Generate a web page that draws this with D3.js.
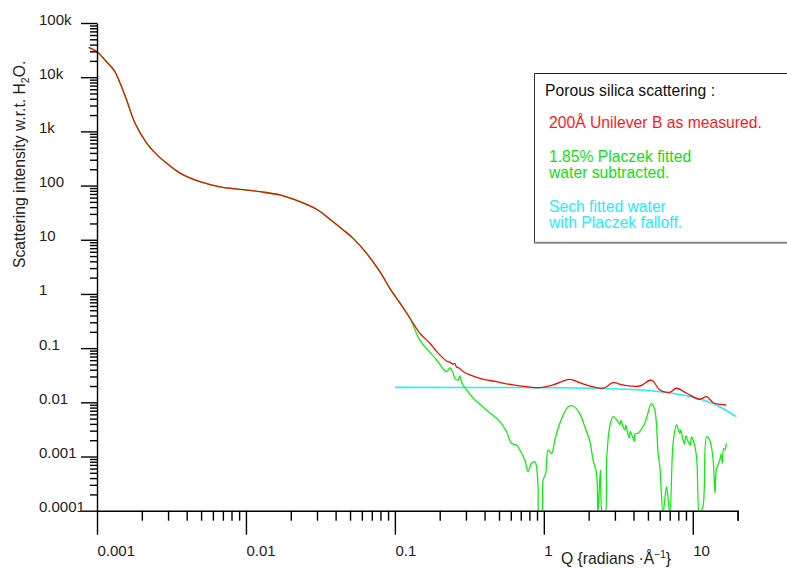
<!DOCTYPE html>
<html>
<head>
<meta charset="utf-8">
<script src="https://cdn.jsdelivr.net/npm/d3@7"></script>
<style>
  html, body { margin: 0; padding: 0; background: #fff; }
  svg { display: block; font-family: "Liberation Sans", Arial, Helvetica, sans-serif; }
</style>
</head>
<body>
<svg id="chart" width="787" height="569"></svg>
<script>
// ---------- DATA ----------
const xMajorTicks = [0.001, 0.01, 0.1, 1, 10];
const xMajorLabels = ["0.001", "0.01", "0.1", "1", "10"];
const yMajorTicks = [1e5, 1e4, 1e3, 100, 10, 1, 0.1, 0.01, 0.001, 0.0001];
const yMajorLabels = ["100k", "10k", "1k", "100", "10", "1", "0.1", "0.01", "0.001", "0.0001"];

// 200Å Unilever B as measured (red)
const redQ = [0.00088, 0.001, 0.00113, 0.00124, 0.00132, 0.00143, 0.00158, 0.0018, 0.00216, 0.0025, 0.00294, 0.00361,
  0.00491, 0.00669, 0.00912, 0.0124, 0.0169, 0.0230, 0.0298, 0.0366, 0.045, 0.0525,
  0.0646, 0.0793, 0.0925, 0.108, 0.126, 0.147, 0.172, 0.191, 0.222, 0.235,
  0.246, 0.253, 0.259, 0.270, 0.287, 0.372, 0.482, 0.622, 0.765, 0.94,
  1.153, 1.49, 1.745, 2.04, 2.50, 2.92, 3.40, 4.41, 5.28, 6.01,
  7.01, 7.78, 9.08, 11.1, 12.4, 13.7, 15.2, 16.8];
const redI = [35600, 29500, 20800, 15800, 12600, 7710, 3790, 1410, 603, 380, 258, 170,
  118, 95, 85.3, 77.1, 67, 50.4, 36.5, 24.0, 15.2, 10.6,
  5.62, 2.57, 1.27, 0.681, 0.36, 0.188, 0.123, 0.086, 0.058, 0.0545,
  0.0505, 0.052, 0.045, 0.043, 0.037, 0.0277, 0.024, 0.0209, 0.0194, 0.0186,
  0.0209, 0.0266, 0.023, 0.020, 0.0182, 0.023, 0.0209, 0.020, 0.0258, 0.0169,
  0.0153, 0.0182, 0.0147, 0.0114, 0.0127, 0.00984, 0.0092, 0.00893];

// 1.85% Placzek fitted water subtracted (green) — identical to red below q≈0.11
const greenSharedCount = 26;
const greenTailQ = [0.126, 0.147, 0.191, 0.222, 0.234, 0.246, 0.253, 0.266, 0.273, 0.280,
  0.287, 0.303, 0.336, 0.412, 0.507, 0.562, 0.607, 0.656, 0.690, 0.745,
  0.785, 0.826, 0.871, 0.893, 0.916, 0.930, 0.964, 0.989, 1.03, 1.07,
  1.127, 1.186, 1.28, 1.456, 1.573, 1.745, 1.884, 2.04, 2.14, 2.26,
  2.31, 2.40, 2.48, 2.57, 2.64, 2.77, 2.92, 3.15, 3.25, 3.30,
  3.40, 3.50, 3.55, 3.68, 3.75, 3.80, 3.97, 4.05, 4.10, 4.29,
  4.76, 5.28, 5.56, 5.85, 6.01, 6.32, 6.66, 7.01, 7.38, 7.78,
  8.18, 8.30, 8.61, 8.80, 9.00, 9.31, 9.60, 9.80, 10.05, 10.6,
  11.1, 11.7, 12.4, 13.0, 13.7, 14.1, 14.4, 15.2, 15.5, 15.8,
  16.1, 16.4, 16.8];
const greenTailI = [0.36, 0.141, 0.0604, 0.0367, 0.043, 0.0343, 0.0277, 0.0258, 0.0306, 0.024,
  0.0209, 0.0169, 0.01186, 0.00721, 0.0044, 0.00287, 0.00175, 0.00163, 0.00132, 0.000863,
  0.000525, 0.00075, 0.000803, 0.000649, 0.000241, 0.00009, 0.00009, 0.000369, 0.00049, 0.00132,
  0.00115, 0.00202, 0.0041, 0.0083, 0.00855, 0.0061, 0.00355, 0.00188, 0.000863, 0.00049,
  0.00009, 0.000564, 0.00009, 0.00009, 0.000863, 0.00355, 0.00543, 0.0044, 0.0039, 0.0047,
  0.00355, 0.0031, 0.0038, 0.0025, 0.0022, 0.0029, 0.00217, 0.0019, 0.0026, 0.00268,
  0.0041, 0.0096, 0.00721, 0.00115, 0.000649, 0.00009, 0.000277, 0.00009, 0.00175, 0.00382,
  0.00268, 0.0031, 0.00202, 0.0017, 0.0024, 0.00188, 0.0016, 0.0023, 0.00202, 0.000993,
  0.00009, 0.000119, 0.00232, 0.00202, 0.000863, 0.000209, 0.000564, 0.000863, 0.0011, 0.00075,
  0.0014, 0.00132, 0.00175];

// Sech fitted water with Placzek falloff (cyan)
const cyanQ = [0.1, 0.372, 1.28, 3.59, 6.01, 10.05, 14.4, 19.6];
const cyanI = [0.0189, 0.0188, 0.0186, 0.0174, 0.0157, 0.0124, 0.00893, 0.00543];

const legendTitle = "Porous silica scattering :";
const legendLines = [
  { lines: ["200Å Unilever B as measured."], color: "#ff1a1a" },
  { lines: ["1.85% Placzek fitted", "water subtracted."], color: "#11e011" },
  { lines: ["Sech fitted water", "with Placzek falloff."], color: "#22eeff" }
];

// ---------- BUILD ----------
const redData = redQ.map((q, i) => ({ q, v: redI[i] }));
const greenData = redData.slice(0, greenSharedCount)
  .concat(greenTailQ.map((q, i) => ({ q, v: greenTailI[i] })));
const cyanData = cyanQ.map((q, i) => ({ q, v: cyanI[i] }));

const svg = d3.select("#chart");
const x = d3.scaleLog().domain([0.001, 20]).range([97, 737.6]);
const y = d3.scaleLog().domain([1e-4, 1e5]).range([510.7, 23]);

// minor tick positions
const xMinor = [];
[0.001, 0.01, 0.1, 1, 10].forEach(d => { for (let k = 2; k <= 9; k++) { if (d * k <= 20) xMinor.push(d * k); } });
xMinor.push(20);
const yMinor = [];
[1e-4, 1e-3, 1e-2, 0.1, 1, 10, 100, 1e3, 1e4].forEach(d => { for (let k = 2; k <= 9; k++) yMinor.push(d * k); });

// clip
svg.append("defs").append("clipPath").attr("id", "clip")
  .append("rect").attr("x", 0).attr("y", 0).attr("width", 787).attr("height", 510.7);

// legend box
const lg = svg.append("g");
lg.append("rect").attr("x", 534.5).attr("y", 73.5).attr("width", 270).attr("height", 168.5)
  .attr("fill", "#fff").attr("stroke", "none");
lg.append("line").attr("x1", 534.5).attr("x2", 790).attr("y1", 73.5).attr("y2", 73.5).attr("stroke", "#222").attr("stroke-width", 1);
lg.append("line").attr("x1", 534.5).attr("x2", 534.5).attr("y1", 73.5).attr("y2", 242).attr("stroke", "#333").attr("stroke-width", 1);
lg.append("line").attr("x1", 534).attr("x2", 790).attr("y1", 242.7).attr("y2", 242.7).attr("stroke", "#888").attr("stroke-width", 2);
lg.append("text").attr("x", 545).attr("y", 95.5).attr("font-size", 15.7).attr("fill", "#111").text(legendTitle);
const legendBaselines = [[128], [161.5, 178], [211.5, 228]];
legendLines.forEach((item, i) => {
  item.lines.forEach((t, j) => {
    lg.append("text").attr("x", 549).attr("y", legendBaselines[i][j])
      .attr("font-size", 15.7).attr("fill", item.color).text(t);
  });
});

// curves
const plot = svg.append("g").attr("clip-path", "url(#clip)");
const smoothLine = d3.line().x(d => x(d.q)).y(d => y(d.v)).curve(d3.curveMonotoneX);
const dataLine = d3.line().x(d => x(d.q)).y(d => y(d.v)).curve(d3.curveCatmullRom.alpha(0.5));
plot.append("path").datum(cyanData).attr("d", smoothLine)
  .attr("fill", "none").attr("stroke", "#22eeff").attr("stroke-width", 1.6);
plot.append("path").datum(greenData).attr("d", dataLine)
  .attr("fill", "none").attr("stroke", "#11ee11").attr("stroke-width", 1.3).attr("stroke-linejoin", "round");
plot.append("path").datum(redData).attr("d", dataLine)
  .attr("fill", "none").attr("stroke", "#ee1100").attr("stroke-width", 1.3).attr("stroke-linejoin", "round");

// axes
const axStyle = g => {
  g.selectAll("path, line").attr("stroke", "#000").attr("stroke-width", 1.4);
  g.selectAll("text").attr("fill", "#222").attr("font-size", 15)
    .attr("font-family", "'Liberation Sans', Arial, sans-serif");
};
const gxMinor = svg.append("g").attr("transform", "translate(0,510.7)")
  .call(d3.axisBottom(x).tickValues(xMinor).tickSize(10).tickSizeOuter(0).tickFormat(""));
gxMinor.select(".domain").remove();
axStyle(gxMinor);
const gx = svg.append("g").attr("transform", "translate(0,510.7)")
  .call(d3.axisBottom(x).tickValues(xMajorTicks).tickSize(24).tickSizeOuter(0)
    .tickFormat((d, i) => xMajorLabels[i]));
axStyle(gx);
gx.selectAll("text").attr("text-anchor", "start").attr("x", 0).attr("y", 45.5).attr("dy", 0);

const gyMinor = svg.append("g").attr("transform", "translate(97,0)")
  .call(d3.axisLeft(y).tickValues(yMinor).tickSize(7).tickSizeOuter(0).tickFormat(""));
gyMinor.select(".domain").remove();
axStyle(gyMinor);
const gy = svg.append("g").attr("transform", "translate(97,0)")
  .call(d3.axisLeft(y).tickValues(yMajorTicks).tickSize(16).tickSizeOuter(0)
    .tickFormat((d, i) => yMajorLabels[i]));
axStyle(gy);
gy.selectAll("text").attr("text-anchor", "start").attr("x", -58).attr("y", 1).attr("dy", 0);

// axis titles
const xt = svg.append("text").attr("x", 561).attr("y", 563.5).attr("font-size", 15.7).attr("fill", "#222");
xt.append("tspan").text("Q {radians ·Å");
xt.append("tspan").attr("font-size", 10).attr("dy", -6).text("−1");
xt.append("tspan").attr("dy", 6).text("}");

const yt = svg.append("text").attr("transform", "translate(24.5,268) rotate(-90)")
  .attr("font-size", 15.7).attr("fill", "#222");
yt.append("tspan").text("Scattering intensity w.r.t. H");
yt.append("tspan").attr("font-size", 10.5).attr("dy", 4).text("2");
yt.append("tspan").attr("dy", -4).text("O.");
</script>
</body>
</html>
